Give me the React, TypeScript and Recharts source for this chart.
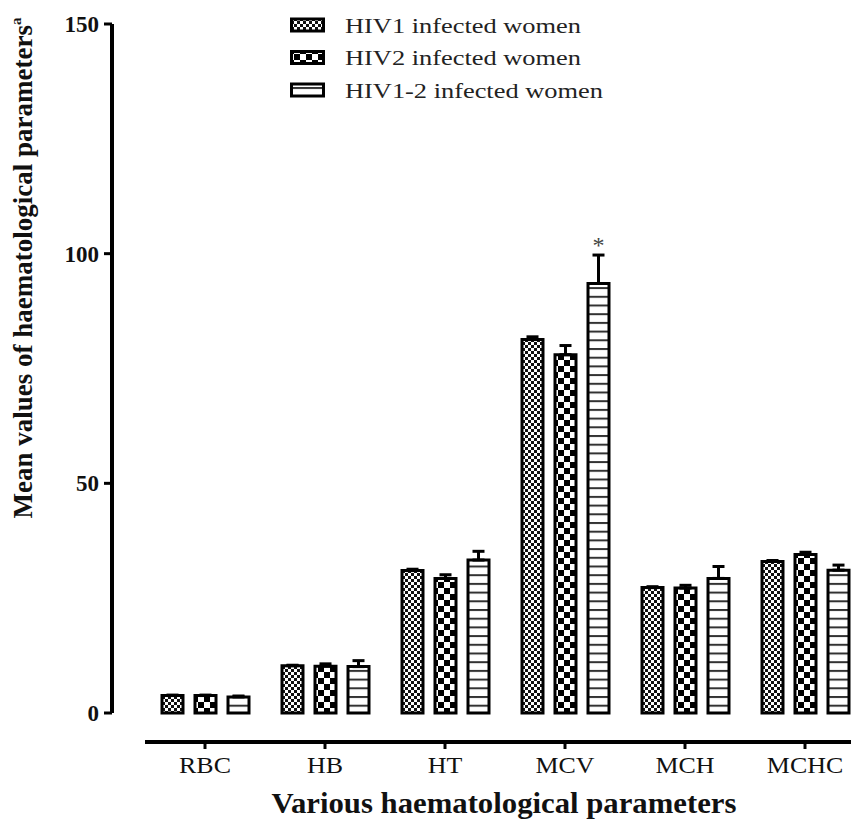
import React from 'react';
import { BarChart, Bar, XAxis, YAxis, ErrorBar, LabelList } from 'recharts';

const categories = ['RBC', 'HB', 'HT', 'MCV', 'MCH', 'MCHC'];
const seriesNames = ['HIV1 infected women', 'HIV2 infected women', 'HIV1-2 infected women'];
const hiv1 = [3.8, 10.3, 31.0, 81.3, 27.3, 33.0];
const hiv1Err = [0.1, 0.1, 0.3, 0.6, 0.2, 0.2];
const hiv2 = [3.8, 10.2, 29.3, 78.0, 27.2, 34.5];
const hiv2Err = [0.1, 0.5, 0.8, 2.0, 0.6, 0.5];
const hiv12 = [3.5, 10.1, 33.3, 93.5, 29.3, 31.1];
const hiv12Err = [0.2, 1.3, 1.9, 6.2, 2.6, 1.1];
const significance = ['', '', '', '*', '', ''];
const yTicks = [0, 50, 100, 150];

const data = categories.map((c, i) => ({
  cat: c,
  a: hiv1[i],
  aErr: [0, hiv1Err[i]],
  b: hiv2[i],
  bErr: [0, hiv2Err[i]],
  c: hiv12[i],
  cErr: [0, hiv12Err[i]],
}));

const SERIF = '"Liberation Serif", "Times New Roman", serif';
const patternIds = ['pFine', 'pCoarse', 'pLines'];

const XTick = (props: any) => {
  const { x, y, payload } = props;
  return (
    <g>
      <line x1={x - 60} x2={x + 60} y1={y + 29} y2={y + 29} stroke="#000" strokeWidth={4} />
      <line x1={x} x2={x} y1={y + 29} y2={y + 36} stroke="#000" strokeWidth={3} />
      <text
        transform={`translate(${x} ${y + 60}) scale(1.08 1)`}
        x={0}
        y={0}
        textAnchor="middle"
        fontFamily={SERIF}
        fontSize={24}
        fill="#111"
      >
        {payload.value}
      </text>
    </g>
  );
};

const YLabel = () => {
  const cx = 32;
  const cy = 268;
  return (
    <text
      x={cx}
      y={cy}
      transform={`rotate(-90 ${cx} ${cy})`}
      textAnchor="middle"
      fontFamily={SERIF}
      fontWeight="bold"
      fontSize={27}
      fill="#111"
    >
      Mean values of haematological parameters
      <tspan fontSize={15} dy={-11}>a</tspan>
    </text>
  );
};

const Star = (props: any) => {
  const { x, y, width, height, index } = props;
  const mark = significance[index];
  if (!mark) return null;
  const v = hiv12[index];
  const pxPerUnit = Number(height) / v;
  const top = Number(y) - hiv12Err[index] * pxPerUnit;
  return (
    <text x={Number(x) + Number(width) / 2} y={top - 2} textAnchor="middle" fontFamily={SERIF} fontSize={24} fill="#444">
      {mark}
    </text>
  );
};

const Defs = () => (
  <defs>
    <pattern id="pFine" patternUnits="userSpaceOnUse" width={6} height={6}>
      <rect width={6} height={6} fill="#fff" />
      <rect x={0} y={0} width={3} height={3} fill="#111" />
      <rect x={3} y={3} width={3} height={3} fill="#111" />
    </pattern>
    <pattern id="pCoarse" patternUnits="userSpaceOnUse" width={12} height={12}>
      <rect width={12} height={12} fill="#fff" />
      <rect x={0} y={0} width={6} height={6} fill="#000" />
      <rect x={6} y={6} width={6} height={6} fill="#000" />
    </pattern>
    <pattern id="pLines" patternUnits="userSpaceOnUse" width={10} height={8.7}>
      <rect width={10} height={8.7} fill="#fff" />
      <rect x={0} y={0} width={10} height={2} fill="#333" />
    </pattern>
  </defs>
);

const legendRows = [25, 57.5, 90];

export default function App() {
  return (
    <div style={{ position: 'absolute', left: 0, top: 0, width: 851, height: 820, overflow: 'hidden', background: '#fff' }}>
      <BarChart
        width={870}
        height={820}
        data={data}
        margin={{ top: 24, right: 5, bottom: 0, left: 0 }}
        barGap={12}
      >
        <XAxis
          dataKey="cat"
          height={107}
          axisLine={false}
          tickLine={false}
          tickSize={0}
          tickMargin={0}
          padding={{ left: 33, right: 0 }}
          tick={<XTick />}
          interval={0}
        />
        <YAxis
          width={112}
          domain={[0, 150]}
          ticks={yTicks}
          interval={0}
          axisLine={{ stroke: '#000', strokeWidth: 4 }}
          tickLine={{ stroke: '#000', strokeWidth: 3 }}
          tickSize={8}
          tickMargin={5}
          tick={{ fontFamily: SERIF, fontWeight: 'bold', fontSize: 23, fill: '#111' }}
          label={<YLabel />}
        />
        <Bar dataKey="a" name={seriesNames[0]} fill="url(#pFine)" stroke="#000" strokeWidth={3} barSize={21} isAnimationActive={false}>
          <ErrorBar dataKey="aErr" width={6} stroke="#000" strokeWidth={3} isAnimationActive={false} />
        </Bar>
        <Bar dataKey="b" name={seriesNames[1]} fill="url(#pCoarse)" stroke="#000" strokeWidth={3} barSize={21} isAnimationActive={false}>
          <ErrorBar dataKey="bErr" width={6} stroke="#000" strokeWidth={3} isAnimationActive={false} />
        </Bar>
        <Bar dataKey="c" name={seriesNames[2]} fill="url(#pLines)" stroke="#000" strokeWidth={3} barSize={21} isAnimationActive={false}>
          <ErrorBar dataKey="cErr" width={6} stroke="#000" strokeWidth={3} isAnimationActive={false} />
          <LabelList dataKey="c" content={<Star />} />
        </Bar>
      </BarChart>
      <svg width={851} height={110} style={{ position: 'absolute', left: 0, top: 0, pointerEvents: 'none' }}>
        <Defs />
        {seriesNames.map((n, i) => (
          <g key={n}>
            <rect x={291.5} y={legendRows[i] - 6} width={32} height={12} fill={`url(#${patternIds[i]})`} stroke="#000" strokeWidth={3} />
            <text
              transform={`translate(345 ${legendRows[i] + 7.5}) scale(1.2 1)`}
              x={0}
              y={0}
              fontFamily={SERIF}
              fontSize={22}
              fill="#222"
            >
              {n}
            </text>
          </g>
        ))}
      </svg>
      <svg width={851} height={820} style={{ position: 'absolute', left: 0, top: 0, pointerEvents: 'none' }}>
        <text
          transform="translate(504 813) scale(1.06 1)"
          x={0}
          y={0}
          textAnchor="middle"
          fontFamily={SERIF}
          fontWeight="bold"
          fontSize={29}
          fill="#111"
        >
          Various haematological parameters
        </text>
      </svg>
    </div>
  );
}
